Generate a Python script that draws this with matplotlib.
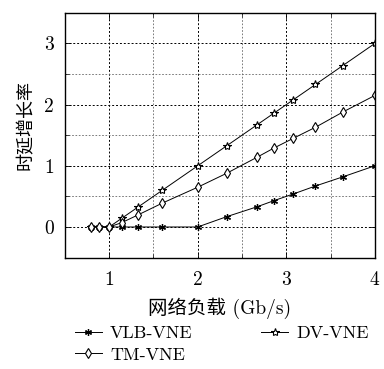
import matplotlib
matplotlib.use("Agg")
import matplotlib.pyplot as plt
from matplotlib.ticker import MultipleLocator

load = [0.8, 0.89, 1.0, 1.14, 1.33, 1.6, 2.0, 2.33, 2.67, 2.86, 3.08, 3.33, 3.64, 4.0]
vlb = [0, 0, 0, 0, 0, 0, 0, 0.17, 0.33, 0.43, 0.54, 0.67, 0.82, 1.0]
dv = [0, 0, 0, 0.14, 0.33, 0.6, 1.0, 1.33, 1.67, 1.86, 2.08, 2.33, 2.64, 3.0]
tm = [0, 0, 0, 0.07, 0.2, 0.39, 0.65, 0.88, 1.14, 1.29, 1.45, 1.63, 1.88, 2.15]
xticks = [1, 2, 3, 4]
yticks = [0, 1, 2, 3]

plt.rcParams['font.family'] = ['cmr10', 'Noto Sans CJK SC', 'DejaVu Sans']
plt.rcParams['axes.formatter.use_mathtext'] = True

fig = plt.figure(figsize=(3.84, 3.69), dpi=100)
ax = fig.add_axes([0.169, 0.302, 0.807, 0.663])

lw = 0.7
h1, = ax.plot(load, vlb, color='black', lw=lw, marker=(6, 2, 0), ms=5, mew=0.9,
              label='VLB-VNE')
h3, = ax.plot(load, dv, color='black', lw=lw, marker='*', ms=6, mfc='white', mew=0.8,
              label='DV-VNE')
h2, = ax.plot(load, tm, color='black', lw=lw, marker='d', ms=5, mfc='white', mew=0.8,
              label='TM-VNE')

ax.set_xlim(0.5, 4)
ax.set_ylim(-0.5, 3.5)
ax.set_xticks(xticks)
ax.set_yticks(yticks)
ax.set_xticklabels([str(v) for v in xticks])
ax.set_yticklabels([str(v) for v in yticks])
ax.xaxis.set_minor_locator(MultipleLocator(0.5))
ax.yaxis.set_minor_locator(MultipleLocator(0.5))
ax.tick_params(which='both', direction='in', top=True, right=True, labelsize=14)
ax.tick_params(axis='x', which='major', pad=10)
ax.tick_params(axis='y', which='major', pad=8)
ax.tick_params(which='major', length=4, width=0.6)
ax.tick_params(which='minor', length=3, width=0.5)
ax.grid(True, which='major', ls=(0, (2, 2)), color='black', lw=0.7)
ax.grid(True, which='minor', ls=(0, (2, 2)), color='#666666', lw=0.6)
ax.set_axisbelow(True)
for s in ax.spines.values():
    s.set_linewidth(1.0)

ax.set_xlabel('网络负载 (Gb/s)', fontsize=14, labelpad=6)
ax.set_ylabel('时延增长率', fontsize=13)
ax.yaxis.set_label_coords(-0.1, 0.54)

fig.legend(handles=[h1, h2, h3], loc='upper left', bbox_to_anchor=(0.195, 0.117),
           ncol=2, frameon=False, fontsize=13, handlelength=1.5, handletextpad=0.45,
           columnspacing=3.8, labelspacing=0.3, borderaxespad=0, borderpad=0)

fig.savefig('out.png', dpi=100)
